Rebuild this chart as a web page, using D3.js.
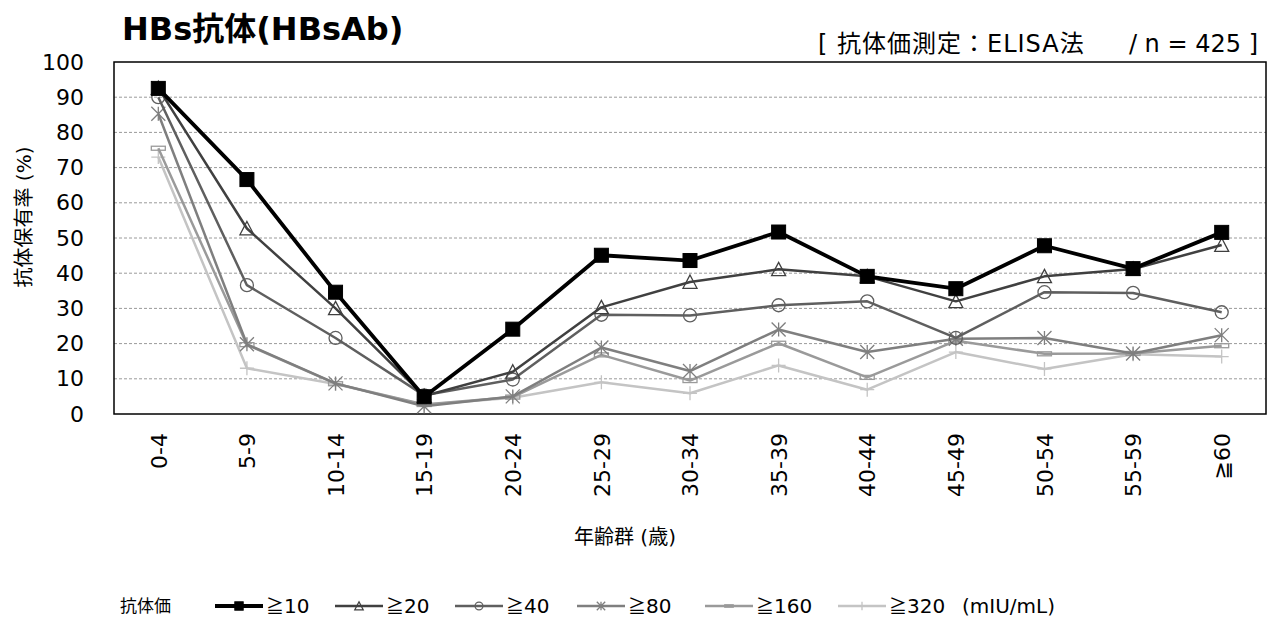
<!DOCTYPE html>
<html>
<head>
<meta charset="utf-8">
<script src="https://cdn.jsdelivr.net/npm/d3@7"></script>
<style>
  html, body { margin: 0; padding: 0; background: #fff; }
  svg { display: block; font-family: "DejaVu Sans", "Noto Sans CJK JP", sans-serif; }
</style>
</head>
<body>
<svg id="chart" width="1274" height="621"></svg>
<script>
const categories = ["0-4","5-9","10-14","15-19","20-24","25-29","30-34","35-39","40-44","45-49","50-54","55-59","≧60"];
const seriesNames = ["10","20","40","80","160","320"];
const s10  = [92.5, 66.6, 34.6, 4.9, 24.1, 45.1, 43.6, 51.7, 39.1, 35.6, 47.8, 41.3, 51.6];
const s20  = [92.6, 52.7, 30.0, 5.1, 12.0, 30.3, 37.5, 41.1, 39.1, 32.0, 39.1, 41.2, 48.0];
const s40  = [90.0, 36.6, 21.6, 5.3, 9.8, 28.2, 28.0, 30.9, 32.0, 21.6, 34.6, 34.4, 28.9];
const s80  = [85.3, 19.8, 8.7, 2.2, 5.0, 18.9, 12.2, 24.0, 17.6, 21.4, 21.6, 17.2, 22.4];
const s160 = [75.5, 19.7, 8.6, 2.7, 4.8, 16.8, 9.5, 20.1, 10.4, 20.8, 17.1, 17.2, 19.4];
const s320 = [73.0, 13.0, 8.5, 2.6, 4.6, 9.0, 5.9, 13.8, 6.9, 17.6, 12.8, 17.0, 16.3];
const yTicks = [0,10,20,30,40,50,60,70,80,90,100];

const seriesValues = [s10, s20, s40, s80, s160, s320];
const styles = [
  {color:"#000000", width:3.8, marker:"square"},
  {color:"#404040", width:2.5, marker:"triangle"},
  {color:"#5f5f5f", width:2.5, marker:"circle"},
  {color:"#7f7f7f", width:2.5, marker:"asterisk"},
  {color:"#9a9a9a", width:2.5, marker:"dash"},
  {color:"#c4c4c4", width:2.5, marker:"plus"}
];

const LAT = "DejaVu Sans, Noto Sans CJK JP, sans-serif";
const CJK = "Noto Sans CJK JP, sans-serif";

const svg = d3.select("#chart");
const L = 114, R = 1266, T = 62, B = 414;

const x = d3.scalePoint().domain(categories).range([L, R]).padding(0.5);
const y = d3.scaleLinear().domain([0, 100]).range([B, T]);

// gridlines
svg.append("g").selectAll("line").data(yTicks.filter(t => t > 0 && t < 100)).join("line")
  .attr("x1", L).attr("x2", R)
  .attr("y1", d => y(d)).attr("y2", d => y(d))
  .attr("stroke", "#9a9a9a").attr("stroke-width", 1).attr("stroke-dasharray", "3,2");

// y axis
const yAxis = d3.axisLeft(y).tickValues(yTicks).tickSize(0).tickPadding(30);
const gy = svg.append("g").attr("transform", `translate(${L},0)`).call(yAxis);
gy.select(".domain").remove();
gy.selectAll("text").attr("font-size", 22).attr("fill", "#000").attr("font-family", LAT);

// x axis
const xAxis = d3.axisBottom(x).tickSize(0).tickPadding(0);
const gx = svg.append("g").attr("transform", `translate(0,${B})`).call(xAxis);
gx.select(".domain").remove();
gx.selectAll("text")
  .attr("font-size", 22).attr("fill", "#000").attr("font-family", LAT)
  .attr("text-anchor", "end")
  .attr("dy", "0.35em")
  .attr("transform", "translate(0,19) rotate(-90)");

// plot border
svg.append("rect").attr("x", L).attr("y", T).attr("width", R - L).attr("height", B - T)
  .attr("fill", "none").attr("stroke", "#000").attr("stroke-width", 1.5);

// markers
function drawMarker(g, type, cx, cy, color, scale) {
  const s = scale || 1;
  if (type === "square") {
    g.append("rect").attr("x", cx - 7*s).attr("y", cy - 7*s).attr("width", 14*s).attr("height", 14*s)
      .attr("fill", color).attr("stroke", color);
  } else if (type === "triangle") {
    const h = 7*s;
    g.append("path").attr("d", `M${cx},${cy - h} L${cx + h},${cy + h*0.9} L${cx - h},${cy + h*0.9} Z`)
      .attr("fill", "none").attr("stroke", color).attr("stroke-width", 1.3);
  } else if (type === "circle") {
    g.append("circle").attr("cx", cx).attr("cy", cy).attr("r", 6.5*s)
      .attr("fill", "none").attr("stroke", color).attr("stroke-width", 1.3);
  } else if (type === "asterisk") {
    const r = 7*s;
    const p = [`M${cx - r},${cy - r} L${cx + r},${cy + r}`, `M${cx - r},${cy + r} L${cx + r},${cy - r}`, `M${cx},${cy - r} L${cx},${cy + r}`];
    g.append("path").attr("d", p.join(" ")).attr("stroke", color).attr("stroke-width", 1.3).attr("fill", "none");
  } else if (type === "dash") {
    g.append("rect").attr("x", cx - 7*s).attr("y", cy - 2*s).attr("width", 14*s).attr("height", 4*s)
      .attr("fill", "none").attr("stroke", color).attr("stroke-width", 1.3);
  } else if (type === "plus") {
    const r = 7*s;
    g.append("path").attr("d", `M${cx - r},${cy} L${cx + r},${cy} M${cx},${cy - r} L${cx},${cy + r}`)
      .attr("stroke", color).attr("stroke-width", 1.3).attr("fill", "none");
  }
}

const line = d3.line().x((d, i) => x(categories[i])).y(d => y(d));
const plot = svg.append("g");
for (let k = seriesValues.length - 1; k >= 0; k--) {
  const st = styles[k];
  const g = plot.append("g");
  g.append("path").datum(seriesValues[k]).attr("d", line)
    .attr("fill", "none").attr("stroke", st.color).attr("stroke-width", st.width)
    .attr("stroke-linejoin", "round");
  seriesValues[k].forEach((v, i) => drawMarker(g, st.marker, x(categories[i]), y(v), st.color, 1));
}

// titles
svg.append("text").attr("x", 122).attr("y", 40).attr("font-size", 32).attr("font-weight", "bold")
  .attr("font-family", LAT).text("HBs抗体(HBsAb)");
svg.append("text").attr("x", 818).attr("y", 52).attr("font-size", 24).attr("letter-spacing", 1)
  .attr("font-family", LAT).text("[ 抗体価測定：ELISA法");
svg.append("text").attr("x", 1258).attr("y", 52).attr("text-anchor", "end").attr("font-size", 24)
  .attr("font-family", LAT).text("/ n = 425 ]");

// axis titles
svg.append("text").attr("transform", "translate(31,217) rotate(-90)").attr("text-anchor", "middle")
  .attr("font-size", 20).attr("font-family", LAT).text("抗体保有率 (%)");
svg.append("text").attr("x", 625).attr("y", 544).attr("text-anchor", "middle").attr("font-size", 20)
  .attr("font-family", LAT).text("年齢群 (歳)");

// legend
const lg = svg.append("g").attr("font-size", 20).attr("font-family", LAT);
const ly = 606;
lg.append("text").attr("x", 120).attr("y", ly).attr("dy", "0.35em").attr("font-size", 17)
  .attr("font-family", CJK).text("抗体価");
const legendX = [215, 335, 455, 577, 705, 838];
seriesNames.forEach((name, k) => {
  const st = styles[k];
  const x0 = legendX[k], x1 = x0 + 48;
  lg.append("line").attr("x1", x0).attr("x2", x1).attr("y1", ly).attr("y2", ly)
    .attr("stroke", st.color).attr("stroke-width", st.width);
  drawMarker(lg, st.marker, (x0 + x1) / 2, ly, st.color, 0.6);
  const t = lg.append("text").attr("x", x1 + 3).attr("y", ly).attr("dy", "0.35em");
  t.append("tspan").attr("font-family", CJK).attr("font-size", 18).text("≧");
  t.append("tspan").text(name);
});
lg.append("text").attr("x", 962).attr("y", ly).attr("dy", "0.35em").text("(mIU/mL)");
</script>
</body>
</html>
